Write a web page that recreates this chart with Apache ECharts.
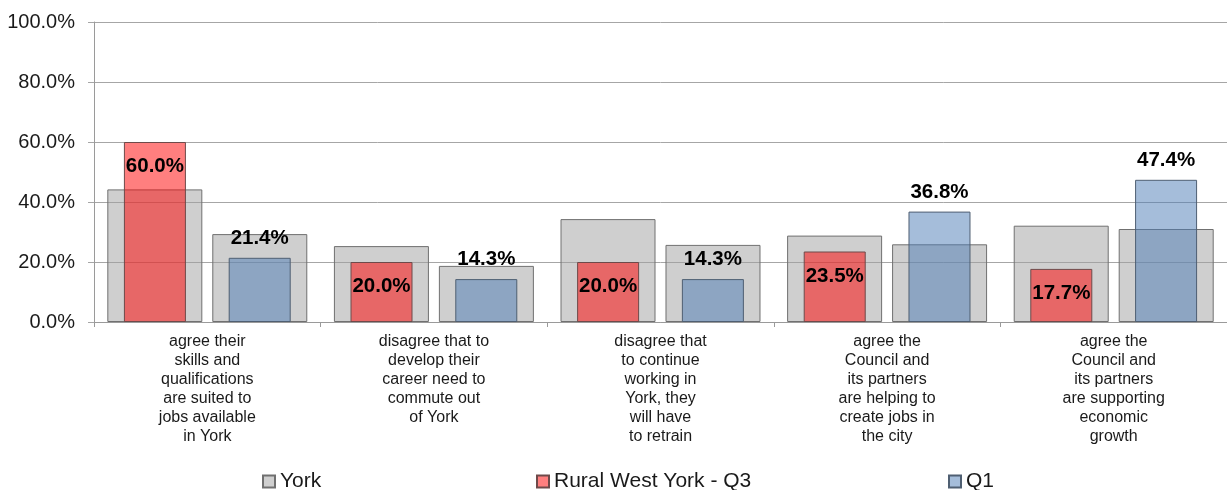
<!DOCTYPE html>
<html>
<head>
<meta charset="utf-8">
<title>York survey comparison</title>
<script src="https://cdn.jsdelivr.net/npm/echarts@6/dist/echarts.min.js"></script>
<style>
  html, body { margin: 0; padding: 0; background: #ffffff; }
  #chart { width: 1227px; height: 490px; }
</style>
</head>
<body>
<div id="chart"></div>
<script>
// Survey statements (x-axis categories)
const categories = [
  'agree their\nskills and\nqualifications\nare suited to\njobs available\nin York',
  'disagree that to\ndevelop their\ncareer need to\ncommute out\nof York',
  'disagree that\nto continue\nworking in\nYork, they\nwill have\nto retrain',
  'agree the\nCouncil and\nits partners\nare helping to\ncreate jobs in\nthe city',
  'agree the\nCouncil and\nits partners\nare supporting\neconomic\ngrowth'
];

// York-wide results shown behind each group (percent)
const yorkBehindQ3 = [44.2, 25.3, 34.3, 28.8, 32.1];
const yorkBehindQ1 = [29.3, 18.7, 25.7, 25.9, 31.0];

// Group results (percent)
const ruralWestQ3 = [60.0, 20.0, 20.0, 23.5, 17.7];
const q1 = [21.4, 14.3, 14.3, 36.8, 47.4];

// Y-axis ticks (percent)
const yTicks = { min: 0, max: 100, interval: 20 };

const FONT = 'Liberation Sans, Arial, sans-serif';
const pct = v => Number(v).toFixed(1) + '%';

const chart = echarts.init(document.getElementById('chart'), null, { renderer: 'canvas' });

const legendBase = {
  icon: 'rect',
  itemWidth: 12,
  itemHeight: 12,
  top: 471,
  padding: 0,
  selectedMode: false,
  textStyle: { fontFamily: FONT, fontSize: 21, color: '#1a1a1a' }
};

const valueLabel = {
  show: true,
  fontFamily: FONT,
  fontSize: 20.5,
  fontWeight: 'bold',
  color: '#000000',
  formatter: p => pct(p.value)
};

chart.setOption({
  animation: false,
  backgroundColor: '#ffffff',
  textStyle: { fontFamily: FONT },
  grid: { left: 94, top: 22, width: 1142, height: 300, containLabel: false },
  legend: [
    Object.assign({}, legendBase, { left: 262, data: ['York'] }),
    Object.assign({}, legendBase, { left: 536, data: ['Rural West York - Q3'] }),
    Object.assign({}, legendBase, { left: 948, data: ['Q1'] })
  ],
  xAxis: [
    {
      type: 'category',
      data: categories,
      boundaryGap: true,
      axisLine: { show: true, lineStyle: { color: '#9a9a9a', width: 1 } },
      axisTick: { show: true, length: 5, lineStyle: { color: '#9a9a9a' } },
      axisLabel: {
        interval: 0,
        margin: 10,
        fontFamily: FONT,
        fontSize: 16,
        lineHeight: 19,
        color: '#1a1a1a',
        align: 'center'
      },
      splitLine: { show: false }
    },
    {
      type: 'category',
      data: categories,
      boundaryGap: true,
      show: false
    }
  ],
  yAxis: {
    type: 'value',
    min: yTicks.min,
    max: yTicks.max,
    interval: yTicks.interval,
    axisLine: { show: true, lineStyle: { color: '#9a9a9a', width: 1 } },
    axisTick: { show: true, length: 6, lineStyle: { color: '#a6a6a6' } },
    axisLabel: {
      margin: 19,
      fontFamily: FONT,
      fontSize: 20,
      color: '#1a1a1a',
      padding: [5, 0, 0, 0],
      formatter: v => pct(v)
    },
    splitLine: { show: true, lineStyle: { color: '#a6a6a6', width: 1 } }
  },
  series: [
    {
      name: 'York',
      type: 'bar',
      xAxisIndex: 0,
      data: yorkBehindQ3,
      barWidth: 95,
      barGap: '10.5%',
      z: 2,
      itemStyle: { color: 'rgba(160,160,160,0.5)', borderColor: '#707070', borderWidth: 1 }
    },
    {
      name: 'York',
      type: 'bar',
      xAxisIndex: 0,
      data: yorkBehindQ1,
      barWidth: 95,
      barGap: '10.5%',
      z: 2,
      itemStyle: { color: 'rgba(160,160,160,0.5)', borderColor: '#707070', borderWidth: 1 }
    },
    {
      name: 'Rural West York - Q3',
      type: 'bar',
      xAxisIndex: 1,
      data: ruralWestQ3,
      barWidth: 62,
      barGap: '69%',
      z: 3,
      itemStyle: { color: 'rgba(255,0,0,0.5)', borderColor: '#6e4a4a', borderWidth: 1 },
      label: Object.assign({}, valueLabel, { position: 'insideTop', distance: 14 })
    },
    {
      name: 'Q1',
      type: 'bar',
      xAxisIndex: 1,
      data: q1,
      barWidth: 62,
      barGap: '69%',
      z: 3,
      itemStyle: { color: 'rgba(75,123,181,0.5)', borderColor: '#4f5f72', borderWidth: 1 },
      label: Object.assign({}, valueLabel, { position: 'top', distance: 9 })
    }
  ]
});
</script>
</body>
</html>
